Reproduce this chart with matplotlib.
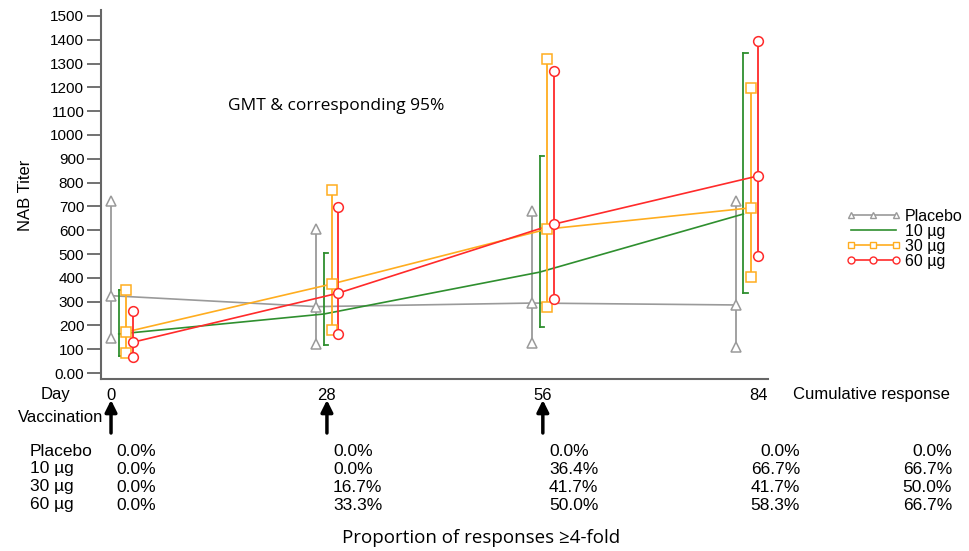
import matplotlib
matplotlib.use('Agg')
import matplotlib.pyplot as plt
from matplotlib.lines import Line2D

days = [0, 28, 56, 84]
groups = ['Placebo', '10 µg', '30 µg', '60 µg']

# geometric mean titers with 95% CI limits per visit
placebo_gmt = [325, 279, 294, 286]
placebo_lo = [147, 122, 126, 109]
placebo_hi = [723, 606, 681, 723]

ug10_gmt = [164, 248, 424, 668]
ug10_lo = [71, 118, 193, 336]
ug10_hi = [349, 504, 912, 1344]

ug30_gmt = [173, 374, 605, 694]
ug30_lo = [85, 181, 278, 403]
ug30_hi = [350, 769, 1319, 1198]

ug60_gmt = [130, 336, 626, 828]
ug60_lo = [67, 164, 311, 492]
ug60_hi = [260, 697, 1269, 1395]

# proportion of >=4-fold responses: day 0, 28, 56, 84, cumulative
resp_placebo = [0.0, 0.0, 0.0, 0.0, 0.0]
resp_10 = [0.0, 0.0, 36.4, 66.7, 66.7]
resp_30 = [0.0, 16.7, 41.7, 41.7, 50.0]
resp_60 = [0.0, 33.3, 50.0, 58.3, 66.7]

W, H = 969, 551
fig = plt.figure(figsize=(W / 100, H / 100), dpi=100)
ax = fig.add_axes([101 / W, 1 - 379 / H, (768 - 101) / W, (379 - 10) / H])

gray = '#9a9a9a'
green = '#2f8f2f'
orange = '#ffad1f'
red = '#ff2a2a'

group_shift = [-1.4, -0.4, 0.6, 1.5]
visit_shift = [1.4, 0, 0, -1.6]


def xpos(g):
    return [d + visit_shift[i] + group_shift[g] for i, d in enumerate(days)]


series = [
    (placebo_gmt, placebo_lo, placebo_hi, gray, '^'),
    (ug10_gmt, ug10_lo, ug10_hi, green, None),
    (ug30_gmt, ug30_lo, ug30_hi, orange, 's'),
    (ug60_gmt, ug60_lo, ug60_hi, red, 'o'),
]

handles = []
for g, (gmt, lo, hi, col, mk) in enumerate(series):
    xs = xpos(g)
    ax.plot(xs, gmt, color=col, lw=1.2, zorder=3)
    for x, m, l, h in zip(xs, gmt, lo, hi):
        ax.plot([x, x], [l, h], color=col, lw=1.3, zorder=3)
        if mk is None:
            ax.plot([x, x + 0.55], [l, l], color=col, lw=1.3)
            ax.plot([x, x + 0.55], [h, h], color=col, lw=1.3)
        else:
            ax.plot([x, x, x], [l, m, h], ls='none', marker=mk, ms=7,
                    mfc='white', mec=col, mew=1.1, zorder=4)
    handles.append(Line2D([], [], color=col, lw=1.2, marker=mk, ms=5,
                          mfc='white', mec=col, mew=1.0))

ax.set_xlim(-1.3, 85.2)
ax.set_ylim(-25, 1525)
ax.set_yticks(range(0, 1501, 100))
ax.set_yticklabels(['0.00'] + [str(v) for v in range(100, 1501, 100)],
                   family='Liberation Sans', fontsize=11)
ax.set_xticks([])
ax.tick_params(axis='y', length=10, width=1.3, color='#666666', pad=2)
for s in ['top', 'right']:
    ax.spines[s].set_visible(False)
for s in ['left', 'bottom']:
    ax.spines[s].set_color('#666666')
    ax.spines[s].set_linewidth(1.5)

fig.text(25 / W, 1 - 195 / H, 'NAB Titer', rotation=90, ha='center', va='center',
         family='Liberation Sans', fontsize=12)
fig.text(228 / W, 1 - 106 / H, 'GMT & corresponding 95%', ha='left', va='center',
         family='Open Sans', fontsize=12.5)

fig.legend(handles, groups, loc='center left', bbox_to_anchor=(838 / W, 1 - 239 / H),
           frameon=False, handlelength=3.4, handletextpad=0.3, labelspacing=0.0,
           borderpad=0, numpoints=3, prop={'family': 'Liberation Sans', 'size': 11.5})

font = 'Liberation Sans'

# day row and vaccination arrows
fig.text(70 / W, 1 - 395 / H, 'Day', ha='right', va='center', family=font, fontsize=12)
for d in days:
    ax.annotate(str(d), xy=(d, 1 - 395 / H), xycoords=('data', 'figure fraction'),
                ha='center', va='center', family=font, fontsize=12, annotation_clip=False)
fig.text(793 / W, 1 - 395 / H, 'Cumulative response', ha='left', va='center',
         family=font, fontsize=12)
fig.text(103 / W, 1 - 418 / H, 'Vaccination', ha='right', va='center',
         family=font, fontsize=12)
for d in days[:3]:
    ax.annotate('', xy=(d, 1 - 400 / H), xytext=(d, 1 - 433 / H),
                xycoords=('data', 'figure fraction'), textcoords=('data', 'figure fraction'),
                arrowprops=dict(arrowstyle='-|>,head_width=0.35,head_length=0.7',
                                lw=2.5, color='black', shrinkA=0, shrinkB=0),
                annotation_clip=False)

# response table
rows = [resp_placebo, resp_10, resp_30, resp_60]
row_y = [451, 469, 487, 505]
col_x = [116, 333, 549, 800, 952]
col_ha = ['left', 'left', 'left', 'right', 'right']
for name, vals, y in zip(groups, rows, row_y):
    fig.text(30 / W, 1 - y / H, name, ha='left', va='center', family=font, fontsize=12.5)
    for v, x, ha in zip(vals, col_x, col_ha):
        fig.text(x / W, 1 - y / H, f'{v:.1f}%', ha=ha, va='center',
                 family=font, fontsize=12.5)

fig.text(481 / W, 1 - 538 / H, 'Proportion of responses \u22654-fold', ha='center',
         va='center', family='Open Sans', fontsize=13.5)

fig.savefig('out.png', dpi=100)
